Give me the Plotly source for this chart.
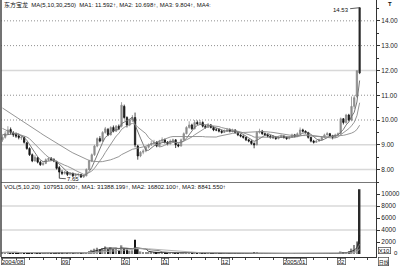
import numpy as np
import pandas as pd
import plotly.graph_objects as go

# ---------------- data ----------------
stock_name = "东方宝龙"
month_tick_idx = [0, 22, 44, 59, 81, 104, 124]
month_labels = ["2004/08", "09", "10", "11", "12", "2005/01", "02"]
price_ticks = [8, 9, 10, 11, 12, 13, 14]
vol_ticks = [2000, 4000, 6000, 8000, 10000]

opens = [9.20, 9.30, 9.45, 9.62, 9.48, 9.42, 9.36, 9.28, 9.30, 9.08,
         8.85, 8.60, 8.35, 8.48, 8.30, 8.20, 8.25, 8.40, 8.46, 8.40,
         8.32, 8.08, 7.90, 7.85, 7.90, 7.80, 7.85, 7.75, 7.80, 7.80,
         7.70, 7.75, 8.00, 8.35, 8.60, 8.95, 9.25, 9.15, 9.50, 9.62,
         9.40, 9.70, 9.55, 9.75, 9.75, 10.55, 10.10, 9.80, 10.00, 10.10,
         8.95, 8.55, 8.70, 8.75, 8.90, 9.00, 9.05, 9.10, 8.95, 9.15,
         9.20, 9.10, 9.05, 9.15, 9.20, 9.00, 8.95, 9.20, 9.45, 9.70,
         9.80, 9.65, 9.90, 9.85, 9.90, 9.75, 9.70, 9.80, 9.70, 9.60,
         9.62, 9.55, 9.50, 9.55, 9.62, 9.55, 9.60, 9.50, 9.40, 9.35,
         9.30, 9.20, 9.15, 9.05, 9.00, 9.50, 9.55, 9.45, 9.40, 9.35,
         9.30, 9.30, 9.25, 9.30, 9.35, 9.30, 9.25, 9.30, 9.40, 9.35,
         9.45, 9.60, 9.55, 9.50, 9.30, 9.15, 9.10, 9.15, 9.20, 9.30,
         9.40, 9.45, 9.35, 9.30, 9.40, 9.45, 10.05, 9.90, 10.20, 10.00,
         10.55, 10.95, 11.90]
highs = [9.40, 9.55, 9.75, 9.70, 9.55, 9.50, 9.45, 9.38, 9.34, 9.12,
         8.90, 8.65, 8.58, 8.52, 8.36, 8.32, 8.45, 8.50, 8.50, 8.46,
         8.36, 8.15, 7.98, 7.95, 7.94, 7.90, 7.88, 7.84, 7.86, 7.82,
         7.80, 8.05, 8.40, 8.65, 9.00, 9.30, 9.35, 9.55, 9.72, 9.68,
         9.75, 9.78, 9.80, 9.82, 10.72, 10.62, 10.15, 10.05, 10.20, 10.30,
         9.00, 8.75, 8.82, 8.95, 9.05, 9.15, 9.20, 9.15, 9.20, 9.30,
         9.25, 9.15, 9.22, 9.25, 9.22, 9.05, 9.25, 9.50, 9.75, 9.95,
         9.85, 10.00, 9.98, 10.00, 9.95, 9.80, 9.88, 9.84, 9.75, 9.68,
         9.66, 9.60, 9.62, 9.68, 9.66, 9.65, 9.62, 9.54, 9.45, 9.38,
         9.32, 9.24, 9.18, 9.10, 9.55, 9.65, 9.60, 9.50, 9.45, 9.40,
         9.38, 9.34, 9.35, 9.42, 9.38, 9.32, 9.35, 9.45, 9.44, 9.50,
         9.70, 9.65, 9.58, 9.52, 9.32, 9.20, 9.20, 9.25, 9.35, 9.45,
         9.52, 9.48, 9.40, 9.45, 9.50, 10.10, 10.08, 10.25, 10.25, 10.95,
         11.00, 11.99, 14.53]
lows = [9.12, 9.25, 9.40, 9.42, 9.32, 9.28, 9.22, 9.20, 9.05, 8.80,
        8.55, 8.30, 8.32, 8.25, 8.15, 8.16, 8.22, 8.35, 8.36, 8.30,
        8.00, 7.65, 7.78, 7.80, 7.74, 7.76, 7.70, 7.72, 7.72, 7.66,
        7.67, 7.73, 7.98, 8.30, 8.55, 8.90, 9.10, 9.12, 9.45, 9.35,
        9.38, 9.50, 9.52, 9.60, 9.70, 10.05, 9.70, 9.75, 9.92, 8.90,
        8.40, 8.50, 8.62, 8.70, 8.85, 8.95, 9.00, 8.90, 8.92, 9.10,
        9.05, 8.98, 9.00, 9.08, 8.87, 8.90, 8.93, 9.18, 9.42, 9.65,
        9.60, 9.62, 9.80, 9.82, 9.70, 9.65, 9.68, 9.66, 9.55, 9.55,
        9.50, 9.45, 9.48, 9.52, 9.50, 9.50, 9.45, 9.35, 9.30, 9.25,
        9.15, 9.10, 9.00, 8.86, 8.98, 9.45, 9.40, 9.35, 9.30, 9.25,
        9.24, 9.20, 9.22, 9.28, 9.25, 9.20, 9.22, 9.28, 9.30, 9.32,
        9.42, 9.50, 9.45, 9.25, 9.10, 9.05, 9.08, 9.12, 9.18, 9.28,
        9.38, 9.30, 9.22, 9.28, 9.36, 9.40, 9.82, 9.85, 9.95, 9.95,
        10.45, 10.90, 11.85]
closes = [9.30, 9.45, 9.60, 9.50, 9.40, 9.35, 9.30, 9.30, 9.10, 8.85,
          8.60, 8.35, 8.50, 8.30, 8.20, 8.25, 8.40, 8.45, 8.40, 8.35,
          8.05, 7.90, 7.85, 7.90, 7.80, 7.85, 7.75, 7.80, 7.80, 7.70,
          7.75, 8.00, 8.35, 8.60, 8.95, 9.25, 9.15, 9.50, 9.65, 9.40,
          9.70, 9.55, 9.75, 9.65, 10.60, 10.10, 9.80, 10.00, 10.10, 9.00,
          8.55, 8.70, 8.75, 8.90, 9.00, 9.05, 9.10, 8.95, 9.15, 9.20,
          9.10, 9.05, 9.15, 9.20, 9.00, 8.95, 9.20, 9.45, 9.70, 9.80,
          9.65, 9.90, 9.85, 9.90, 9.75, 9.70, 9.80, 9.70, 9.60, 9.60,
          9.55, 9.50, 9.55, 9.60, 9.55, 9.60, 9.50, 9.40, 9.35, 9.30,
          9.20, 9.15, 9.05, 9.00, 9.50, 9.55, 9.45, 9.40, 9.35, 9.30,
          9.30, 9.25, 9.30, 9.35, 9.30, 9.25, 9.30, 9.40, 9.35, 9.45,
          9.60, 9.55, 9.50, 9.30, 9.15, 9.10, 9.15, 9.20, 9.30, 9.40,
          9.45, 9.35, 9.30, 9.40, 9.45, 10.05, 9.90, 10.20, 10.00, 10.55,
          10.90, 11.99, 14.53]
# closes before the visible window (only feed the moving averages)
prior_closes = [11.6, 11.5, 11.5, 11.4, 11.4, 11.3, 11.3, 11.2,
                11.0, 10.9, 10.8, 10.7, 10.7, 10.6, 10.5, 10.5, 10.3,
                10.3, 10.2, 10.2, 10.1, 10.0, 9.9, 9.8, 9.7, 9.6, 9.5, 9.4, 9.3]
volumes = [2600, 3100, 3800, 2500, 2200, 1900, 1700, 1800, 2400, 2900,
           2600, 3000, 2100, 1800, 1600, 1500, 2000, 1900, 1400, 1300,
           2300, 3200, 1800, 1500, 1400, 1300, 1600, 1200, 1100, 1700,
           1500, 2600,
           4800, 6900, 8800, 10500, 7600, 9800, 12600, 8400, 11200, 7900,
           9400, 6800, 14500, 9200, 7300, 5600, 6100,
           23900,
           8200, 4300, 3500, 3000, 3200, 2800, 2500, 2100, 2600,
           2200, 1800, 1600, 1900, 1700, 2000, 1500, 2100, 2600, 3100,
           2700, 2200, 2900, 2000, 1800, 1500, 1400, 1600, 1300, 1200,
           1100, 1000, 900, 1100, 1200, 1000, 900, 800, 1000, 900,
           1100, 1200, 1000, 1300, 2400, 1800, 1500, 1200, 1000, 900,
           800, 900, 1000, 800, 700, 900, 1100, 1000, 1600, 1300,
           1100, 900, 800, 700, 800, 900, 1000, 1100, 800, 700,
           900, 600, 1100, 900, 1000, 1200,
           4200, 2300, 2380, 4000, 9000, 15000, 21000, 107951]
vol_scale = 10  # axis shows volume / 10 ("X10")

ma_periods = [5, 10, 30]
vol_ma_periods = [5, 10, 20]
title_text = "东方宝龙  MA(5,10,30,250)  MA1: 11.592↑, MA2: 10.698↑, MA3: 9.804↑, MA4:"
vol_text = "VOL(5,10,20)  107951.000↑, MA1: 31388.199↑, MA2: 16802.100↑, MA3: 8841.550↑"

grid_dotted = [10, 11, 13, 14]
grid_solid = [8, 9, 12]
vol_grid = [4000, 8000]

# ---------------- derived ----------------
N = len(closes)
x = list(range(N))
full = pd.Series(prior_closes + closes)
mas = [full.rolling(n, min_periods=1).mean().to_numpy()[len(prior_closes):] for n in ma_periods]
vol_axis = np.array(volumes) / vol_scale
vol_mas = [pd.Series(vol_axis).rolling(n, min_periods=1).mean().to_numpy() for n in vol_ma_periods]

UP = "#8c8c8c"
DN = "#151515"
FONT = "Liberation Sans, Arial, Noto Sans CJK SC, sans-serif"

fig = go.Figure()

fig.add_trace(go.Candlestick(
    x=x[:-1], open=opens[:-1], high=highs[:-1], low=lows[:-1], close=closes[:-1],
    increasing=dict(line=dict(color=UP, width=0.8), fillcolor=UP),
    decreasing=dict(line=dict(color=DN, width=0.8), fillcolor=DN),
    whiskerwidth=0, xaxis="x", yaxis="y", hoverinfo="skip"))
fig.add_trace(go.Candlestick(
    x=x[-1:], open=opens[-1:], high=highs[-1:], low=lows[-1:], close=closes[-1:],
    increasing=dict(line=dict(color="#2a2a2a", width=0.8), fillcolor="#2a2a2a"),
    decreasing=dict(line=dict(color="#2a2a2a", width=0.8), fillcolor="#2a2a2a"),
    whiskerwidth=0, xaxis="x", yaxis="y", hoverinfo="skip"))

for m, col in zip(mas, ["#6a6a6a", "#8a8a8a", "#8a8a8a"]):
    fig.add_trace(go.Scatter(x=x, y=m, mode="lines", line=dict(color=col, width=0.9),
                             xaxis="x", yaxis="y", hoverinfo="skip"))

vcolors = [UP if c >= o else DN for o, c in zip(opens, closes)]
vcolors[-1] = "#2a2a2a"
fig.add_trace(go.Bar(x=x, y=vol_axis, marker=dict(color=vcolors, line=dict(width=0)),
                     width=0.6, xaxis="x2", yaxis="y2", hoverinfo="skip"))
for m, col in zip(vol_mas, ["#222222", "#777777", "#aaaaaa"]):
    fig.add_trace(go.Scatter(x=x, y=m, mode="lines", line=dict(color=col, width=0.9),
                             xaxis="x2", yaxis="y2", hoverinfo="skip"))

split = 1 - 182 / 257
xr = [-0.55, 138.05]

shapes = []
for lv in grid_dotted:
    shapes.append(dict(type="line", xref="x domain", yref="y", x0=0, x1=1, y0=lv, y1=lv,
                       line=dict(color="#8f8f8f", width=1, dash="1px,2px"), layer="below"))
for lv in grid_solid:
    shapes.append(dict(type="line", xref="x domain", yref="y", x0=0, x1=1, y0=lv, y1=lv,
                       line=dict(color="#d8d8d8", width=1.5), layer="below"))
for lv in vol_grid:
    shapes.append(dict(type="line", xref="x2 domain", yref="y2", x0=0, x1=1, y0=lv, y1=lv,
                       line=dict(color="#d8d8d8", width=1.5), layer="below"))
# left border
shapes.append(dict(type="line", xref="paper", yref="paper", x0=0, x1=0, y0=0, y1=1,
                   line=dict(color="#444", width=1.5)))

ann = []
ann.append(dict(text=title_text, xref="paper", yref="paper", x=0, y=1, xanchor="left",
                yanchor="top", xshift=1, yshift=1, showarrow=False,
                font=dict(size=6, color="#111")))
ann.append(dict(text=vol_text, xref="paper", yref="paper", x=0, y=split, xanchor="left",
                yanchor="top", xshift=1, yshift=0, showarrow=False,
                font=dict(size=6, color="#111")))
# high / low marks
ann.append(dict(text=f"{highs[-1]:.2f}", x=x[-1], y=highs[-1], xref="x", yref="y",
                showarrow=True, arrowhead=0, arrowwidth=0.8, arrowcolor="#333",
                ax=-19, ay=2, standoff=0, font=dict(size=6, color="#111")))
lo_i = int(np.argmin(lows))
ann.append(dict(text=f"{lows[lo_i]:.2f}", x=x[lo_i], y=lows[lo_i], xref="x", yref="y",
                showarrow=True, arrowhead=0, arrowwidth=0.8, arrowcolor="#333",
                ax=14, ay=1, standoff=0, font=dict(size=6, color="#111")))
# month labels in boxes
for ti, lab in zip(month_tick_idx, month_labels):
    ann.append(dict(text=lab, x=ti, xref="x2", y=0, yref="paper", xanchor="left",
                    yanchor="top", xshift=-1, yshift=-1, showarrow=False,
                    bordercolor="#555", borderwidth=0.7, borderpad=0,
                    font=dict(size=6, color="#111")))
# right-margin bits
ann.append(dict(text="X10", xref="paper", yref="y2", x=1, y=0, xanchor="left",
                yanchor="middle", xshift=2, yshift=4, showarrow=False,
                bordercolor="#444", borderwidth=0.7, borderpad=0,
                font=dict(size=6, color="#111")))
ann.append(dict(text="0", xref="paper", yref="y2", x=1, y=0, xanchor="left",
                yanchor="middle", xshift=16, yshift=1, showarrow=False,
                font=dict(size=6, color="#111")))
ann.append(dict(text="日线", xref="paper", yref="paper", x=1, y=0, xanchor="left",
                yanchor="top", xshift=2, yshift=0, showarrow=False,
                bordercolor="#444", borderwidth=0.7, borderpad=0,
                font=dict(size=5, color="#111", family="Noto Sans CJK SC")))
ann.append(dict(text="<b>T</b>", xref="paper", yref="paper", x=1, y=1, xanchor="left",
                yanchor="top", xshift=10, yshift=1, showarrow=False,
                font=dict(size=6, color="#111")))

fig.update_layout(
    width=400, height=266,
    margin=dict(l=1, r=22, t=0, b=9),
    paper_bgcolor="white", plot_bgcolor="white",
    showlegend=False, boxgap=0.3, bargap=0.4,
    font=dict(family=FONT, size=6.5, color="#222"),
    xaxis=dict(domain=[0, 1], anchor="y", range=xr, showticklabels=False, ticks="",
               showgrid=False, zeroline=False, showline=True, linecolor="#777",
               linewidth=1, rangeslider=dict(visible=False), fixedrange=True),
    xaxis2=dict(domain=[0, 1], anchor="y2", range=xr, showticklabels=False,
                tickvals=month_tick_idx, ticks="", showgrid=False, zeroline=False,
                showline=True, linecolor="#333", linewidth=1,
                minor=dict(tick0=0, dtick=5, ticks="outside", ticklen=2, tickcolor="#444"),
                rangeslider=dict(visible=False), fixedrange=True),
    yaxis=dict(domain=[split, 1], anchor="x", side="right", range=[7.50, 14.84],
               tickvals=price_ticks, ticktext=[f"{v:.2f}" for v in price_ticks],
               ticks="outside", ticklen=3, tickcolor="#333", showgrid=False,
               zeroline=False, showline=True, linecolor="#333", linewidth=1,
               minor=dict(dtick=0.5, tick0=0, ticks="outside", ticklen=2, tickcolor="#333"),
               tickfont=dict(size=6.5), fixedrange=True),
    yaxis2=dict(domain=[0, split], anchor="x2", side="right", range=[-500, 12000],
                tickvals=vol_ticks, ticktext=[str(v) for v in vol_ticks],
                ticks="outside", ticklen=3, tickcolor="#333", showgrid=False,
                zeroline=False, showline=True, linecolor="#333", linewidth=1,
                tickfont=dict(size=6.5), fixedrange=True),
    shapes=shapes, annotations=ann,
)

fig.write_html("out.html")
